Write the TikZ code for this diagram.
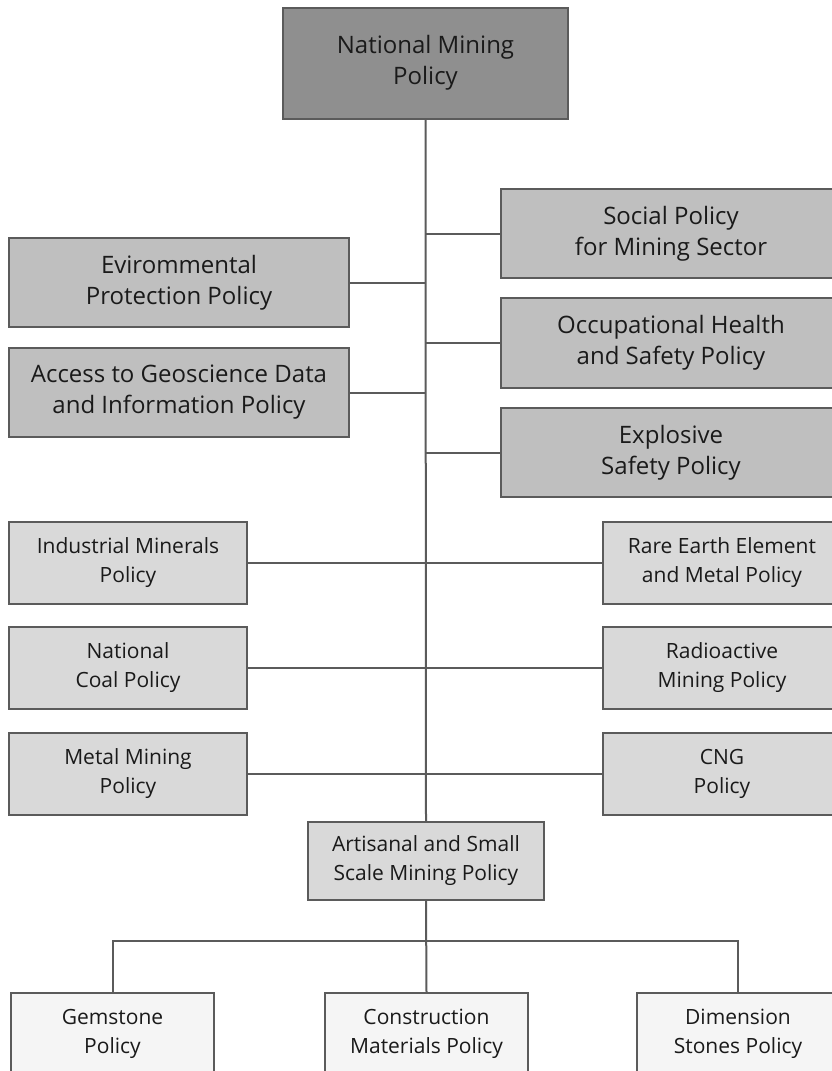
\documentclass[tikz,border=0pt]{standalone}
\usepackage{fontspec}
\setmainfont{Open Sans}
\definecolor{linec}{HTML}{5B5B5B}
\definecolor{lvla}{HTML}{8F8F8F}
\definecolor{lvlb}{HTML}{BFBFBF}
\definecolor{lvlc}{HTML}{D9D9D9}
\definecolor{lvld}{HTML}{F5F5F5}
\definecolor{txt}{HTML}{1A1A1A}
\tikzset{
  box/.style={draw=linec, line width=2pt, inner sep=0pt, align=center, text=txt},
  bigbox/.style={box, font=\fontsize{24}{31}\selectfont},
  smallbox/.style={box, font=\fontsize{21}{29}\selectfont},
  conn/.style={draw=linec, line width=2pt},
}
\begin{document}
\begin{tikzpicture}[x=1pt,y=-1pt]
\useasboundingbox (0,0) rectangle (832,1071);
\clip (0,0) rectangle (832,1071);
\fill[white] (0,0) rectangle (832,1071);
% nodes
\node[bigbox, fill=lvla, minimum width=285pt, minimum height=111pt] (top) at (425.5,63) {National Mining\\Policy};
\node[bigbox, fill=lvlb, minimum width=340pt, minimum height=89pt] (social) at (671,233.5) {Social Policy\\for Mining Sector};
\node[bigbox, fill=lvlb, minimum width=340pt, minimum height=89pt] (env) at (179,282.5) {Evirommental\\Protection Policy};
\node[bigbox, fill=lvlb, minimum width=340pt, minimum height=90pt] (occ) at (671,343) {Occupational Health\\and Safety Policy};
\node[bigbox, fill=lvlb, minimum width=340pt, minimum height=89pt] (access) at (179,392.5) {Access to Geoscience Data\\and Information Policy};
\node[bigbox, fill=lvlb, minimum width=340pt, minimum height=89pt] (expl) at (671,452.5) {Explosive\\Safety Policy};
\node[smallbox, fill=lvlc, minimum width=238pt, minimum height=82pt] (ind) at (128,563) {Industrial Minerals\\Policy};
\node[smallbox, fill=lvlc, minimum width=238pt, minimum height=82pt] (rare) at (722,563) {Rare Earth Element\\and Metal Policy};
\node[smallbox, fill=lvlc, minimum width=238pt, minimum height=82pt] (coal) at (128,668) {National\\Coal Policy};
\node[smallbox, fill=lvlc, minimum width=238pt, minimum height=82pt] (rad) at (722,668) {Radioactive\\Mining Policy};
\node[smallbox, fill=lvlc, minimum width=238pt, minimum height=82pt] (metal) at (128,773.5) {Metal Mining\\Policy};
\node[smallbox, fill=lvlc, minimum width=238pt, minimum height=82pt] (cng) at (722,773.5) {CNG\\Policy};
\node[smallbox, fill=lvlc, minimum width=236pt, minimum height=78pt] (art) at (426,861) {Artisanal and Small\\Scale Mining Policy};
\node[smallbox, fill=lvld, minimum width=203pt, minimum height=82pt] (gem) at (112.5,1034) {Gemstone\\Policy};
\node[smallbox, fill=lvld, minimum width=203pt, minimum height=82pt] (cons) at (426.5,1034) {Construction\\Materials Policy};
\node[smallbox, fill=lvld, minimum width=203pt, minimum height=82pt] (dim) at (738,1034) {Dimension\\Stones Policy};
\coordinate (bus) at (426,941);
% connectors
\draw[conn] (top.south) -- (art.north);
\draw[conn] (social.west) -- (social.west -| top.south);
\draw[conn] (env.east) -- (env.east -| top.south);
\draw[conn] (occ.west) -- (occ.west -| top.south);
\draw[conn] (access.east) -- (access.east -| top.south);
\draw[conn] (expl.west) -- (expl.west -| top.south);
\draw[conn] (ind.east) -- (rare.west);
\draw[conn] (coal.east) -- (rad.west);
\draw[conn] (metal.east) -- (cng.west);
\draw[conn] (art.south) -- (cons.north);
\draw[conn] (gem.north) -- (gem.north |- bus) -- (dim.north |- bus) -- (dim.north);
\end{tikzpicture}
\end{document}
